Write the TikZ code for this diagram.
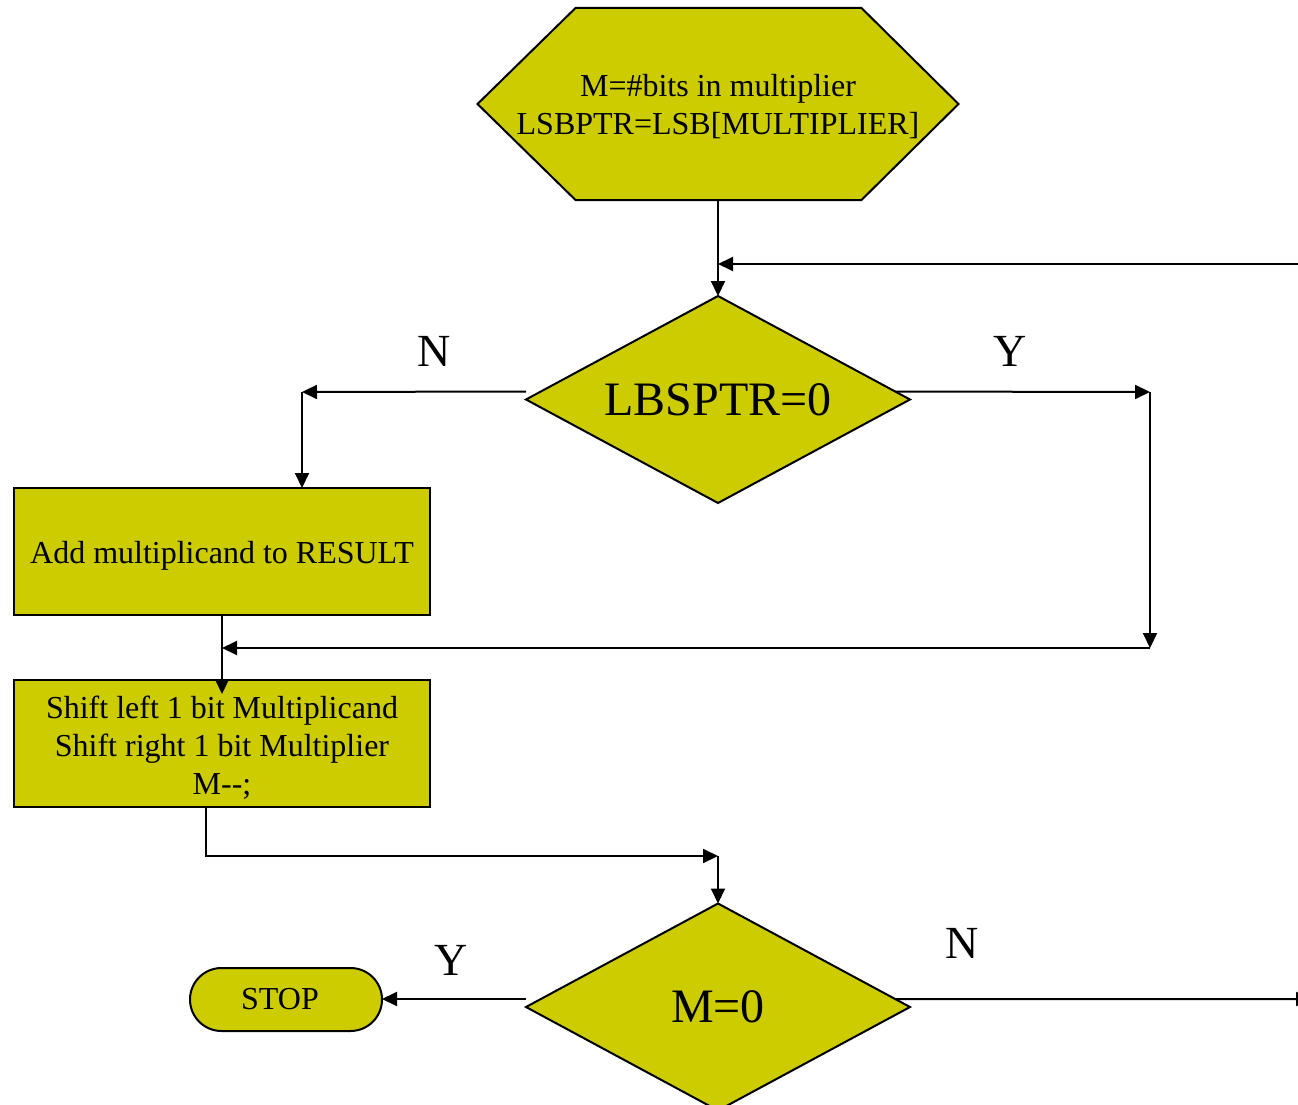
\documentclass[tikz,border=0pt]{standalone}
\usepackage{fontspec}
\setmainfont{Liberation Serif}
\usetikzlibrary{arrows.meta,shapes.misc,calc}
\definecolor{flowfill}{HTML}{CCCC00}
\pgfdeclarelayer{background}
\pgfsetlayers{background,main}
\begin{document}
\begin{tikzpicture}[x=1pt,y=-1pt,
  >={Triangle[length=15pt,width=14pt]},
  every node/.style={outer sep=0pt},
  % invisible holders: the outlines are drawn behind them from their anchors
  holder/.style={rectangle,inner sep=0pt,minimum width=#1},
  hexbox/.style={holder=481pt,minimum height=192pt},
  decision/.style={holder=384pt,minimum height=207pt},
  procbox/.style={draw,line width=2pt,fill=flowfill,rectangle,minimum width=416pt,minimum height=127pt,inner sep=0pt},
  terminal/.style={draw,line width=2pt,fill=flowfill,rounded rectangle,minimum width=192pt,minimum height=63pt,inner sep=0pt},
  boxtext/.style={align=center,inner sep=0pt,font=\fontsize{32}{38}\selectfont},
  bigtext/.style={inner sep=0pt,font=\fontsize{48}{56}\selectfont},
  branch/.style={font=\fontsize{46}{50}\selectfont,inner sep=0pt},
  outline/.style={draw,line width=2pt,line join=miter,fill=flowfill},
  wire/.style={->,line width=2pt}
]
\useasboundingbox (0,0) rectangle (1298,1105);
\clip (0,0) rectangle (1298,1105);

% shapes with their texts
\node[hexbox,label={[boxtext,yshift=-3pt]center:{M=\#bits in multiplier\\LSBPTR=LSB[MULTIPLIER]}}] (init) at (718,104) {};
\node[decision,label={[bigtext]center:LBSPTR=0}] (test) at (718,399.5) {};
\node[procbox,label={[boxtext,yshift=-4pt]center:Add multiplicand to RESULT}] (add) at (222,551.5) {};
\node[procbox,label={[boxtext,yshift=-4pt]center:{Shift left 1 bit Multiplicand\\Shift right 1 bit Multiplier\\M-{}-;}}] (shift) at (222,743.5) {};
\node[decision,label={[bigtext]center:M=0}] (count) at (718,1007) {};
\node[terminal,label={[boxtext,xshift=-6pt]center:STOP}] (stop) at (286,999.5) {};

\begin{pgfonlayer}{background}
  \path[outline] ($(init.north west)+(98,0)$) -- ($(init.north east)+(-97,0)$)
    -- (init.east) -- ($(init.south east)+(-97,0)$) -- ($(init.south west)+(98,0)$)
    -- (init.west) -- cycle;
  \path[outline] (test.north) -- (test.east) -- (test.south) -- (test.west) -- cycle;
  \path[outline] (count.north) -- (count.east) -- (count.south) -- (count.west) -- cycle;
\end{pgfonlayer}

% branch labels
\node[branch] (tn) at (434,351) {N};
\node[branch] (ty) at (1010,351) {Y};
\node[branch] (cy) at (451,960) {Y};
\node[branch] (cn) at (962,943) {N};

% free ends and bend points
\coordinate (loopin) at (1298,264);
\coordinate (loopout) at (1311,999);
\coordinate (nstart) at ($(test.west)+(0,-8)$);
\coordinate (ystart) at ($(test.east)!0.077!(test.north)$);
\coordinate (nbend) at (302,392);
\coordinate (ybend) at (1150,392);
\coordinate (ymerge) at (1150,648);
\coordinate (sbend) at (206,856);
\coordinate (cystart) at ($(count.west)+(0,-8)$);
\coordinate (cnstart) at ($(count.east)!0.077!(count.north)$);

% connectors
\draw[wire] (init.south) -- (test.north);
\draw[wire] (loopin) -- (loopin -| init.south);
\draw[wire] (nstart) -- (nbend);
\draw[wire] (nbend) -- (nbend |- add.north);
\draw[wire] (ystart) -- (ybend);
\draw[wire] (ybend) -- (ymerge);
\draw[wire] (ymerge) -- (ymerge -| add.south);
\draw[wire] (add.south) -- ($(shift.north)+(0,14)$);
\draw[wire] (sbend |- shift.south) -- (sbend) -- (sbend -| count.north);
\draw[wire] (sbend -| count.north) -- (count.north);
\draw[wire] (cystart) -- (cystart -| stop.east);
\draw[wire] (cnstart) -- (loopout);
\end{tikzpicture}
\end{document}
